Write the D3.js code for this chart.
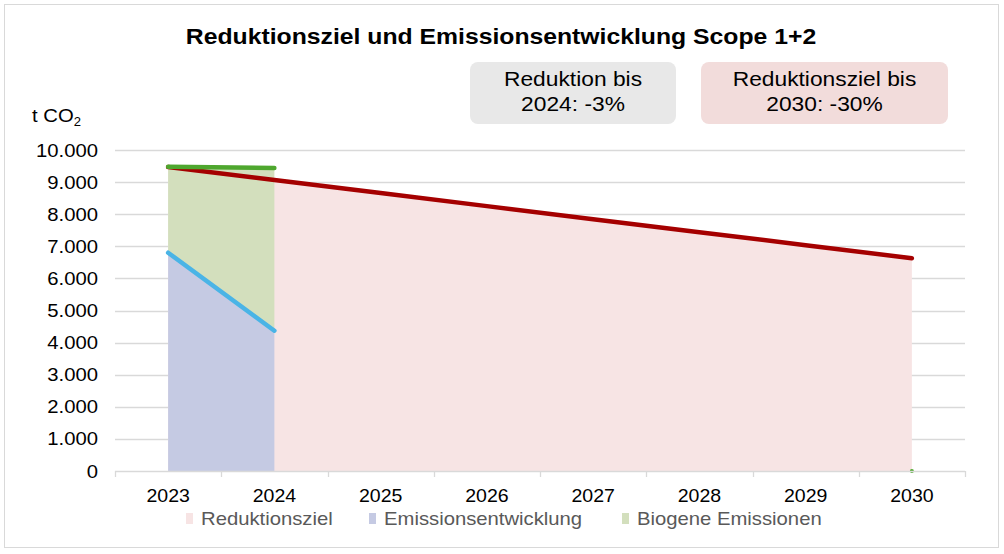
<!DOCTYPE html>
<html><head><meta charset="utf-8">
<script src="https://cdn.jsdelivr.net/npm/d3@7"></script>
<style>body{margin:0;background:#fff}svg{display:block;font-family:"Liberation Sans",Arial,sans-serif}</style>
</head><body><svg id="c" width="1004" height="554"></svg>
<script>
const years = ["2023","2024","2025","2026","2027","2028","2029","2030"];
const reduktionsziel = [9470,9064,8658,8252,7846,7440,7034,6629];
const emissionsYears = ["2023","2024"];
const emissionsentwicklung = [6800,4370];
const biogeneEmissionen = [2680,5070];
const yTicks = [0,1000,2000,3000,4000,5000,6000,7000,8000,9000,10000];
const legendLabels = ["Reduktionsziel","Emissionsentwicklung","Biogene Emissionen"];
const title = "Reduktionsziel und Emissionsentwicklung Scope 1+2";
const boxTexts = [["Reduktion bis","2024: -3%"],["Reduktionsziel bis","2030: -30%"]];

const svg = d3.select("#c");
svg.append("rect").attr("x",4.5).attr("y",4.5).attr("width",994).attr("height",543)
  .attr("fill","#fff").attr("stroke","#d9d9d9").attr("stroke-width",1);

const SX = 1.09;
function txt(g, x, yy, s, opts={}) {
  const t = g.append("text")
    .attr("transform",`translate(${x},${yy}) scale(${opts.sx||SX},1)`)
    .attr("text-anchor",opts.anchor||"start")
    .attr("font-size",opts.size||18.6)
    .attr("fill",opts.fill||"#000");
  if (opts.bold) t.attr("font-weight","bold");
  t.text(s);
  return t;
}

const L=115,R=965,T=150,B=471;
const x = d3.scaleBand().domain(years).range([L,R]);
const cx = d => x(d)+x.bandwidth()/2;
const y = d3.scaleLinear().domain([0,10000]).range([B,T]);
const fmt = v => d3.format(",")(v).replace(/,/g,".");

// gridlines
svg.append("g").selectAll("line").data(yTicks.filter(d=>d>0)).join("line")
  .attr("x1",L).attr("x2",R).attr("y1",d=>Math.round(y(d))+0.5).attr("y2",d=>Math.round(y(d))+0.5)
  .attr("stroke","#d9d9d9").attr("stroke-width",1.3);

// areas
const fillColors = ["#f7e4e4","#c5cae3","#d3dfbd"];
const area = d3.area().x(d=>cx(d.k)).y0(d=>y(d.lo)).y1(d=>y(d.hi));
const redData = years.map((k,i)=>({k,lo:0,hi:reduktionsziel[i]}));
svg.append("path").attr("d",area(redData)).attr("fill",fillColors[0]);
const blueData = emissionsYears.map((k,i)=>({k,lo:0,hi:emissionsentwicklung[i]}));
const greenData = emissionsYears.map((k,i)=>({k,lo:emissionsentwicklung[i],hi:emissionsentwicklung[i]+biogeneEmissionen[i]}));
svg.append("path").attr("d",area(blueData)).attr("fill",fillColors[1]);
svg.append("path").attr("d",area(greenData)).attr("fill",fillColors[2]);

// lines
const line = d3.line().x(d=>cx(d.k)).y(d=>y(d.v));
svg.append("path").attr("d",line(redData.map(d=>({k:d.k,v:d.hi}))))
  .attr("fill","none").attr("stroke","#a50000").attr("stroke-width",4.5).attr("stroke-linecap","round");
svg.append("path").attr("d",line(blueData.map(d=>({k:d.k,v:d.hi}))))
  .attr("fill","none").attr("stroke","#4ab4e6").attr("stroke-width",4.5).attr("stroke-linecap","round");
svg.append("path").attr("d",line(greenData.map(d=>({k:d.k,v:d.hi}))))
  .attr("fill","none").attr("stroke","#4ea72e").attr("stroke-width",4.5).attr("stroke-linecap","round");
svg.append("circle").attr("cx",cx("2030")).attr("cy",y(0)).attr("r",2).attr("fill","#4ea72e");

// x axis
svg.append("line").attr("x1",L).attr("x2",R).attr("y1",B+0.5).attr("y2",B+0.5).attr("stroke","#d9d9d9").attr("stroke-width",1.3);
const bounds = years.map(d=>x(d)).concat([R]);
svg.append("g").selectAll("line").data(bounds).join("line")
  .attr("x1",d=>Math.round(d)+0.5).attr("x2",d=>Math.round(d)+0.5).attr("y1",B).attr("y2",B+6)
  .attr("stroke","#d9d9d9").attr("stroke-width",1.3);
const gx = svg.append("g");
years.forEach(d => txt(gx, cx(d), 502, d, {anchor:"middle", size:18.6, sx:1.05}));

// y labels
const gy = svg.append("g");
yTicks.forEach(d => txt(gy, 98, y(d)+6.5, fmt(d), {anchor:"end", size:18.6}));
const yl = txt(svg, 32, 121.5, "", {size:18.6});
yl.append("tspan").text("t CO");
yl.append("tspan").attr("font-size",12).attr("dy",4).text("2");

// title
txt(svg, 501, 44, title, {anchor:"middle", size:22.5, bold:true, sx:1.1});

// boxes
const boxes = [{x:470,w:206,fill:"#e8e8e8"},{x:701,w:247,fill:"#f2dcdb"}];
boxes.forEach((b,i)=>{
  svg.append("rect").attr("x",b.x).attr("y",62).attr("width",b.w).attr("height",62).attr("rx",8).attr("fill",b.fill);
  boxTexts[i].forEach((t,j)=>{
    txt(svg, b.x+b.w/2, 86+j*25, t, {anchor:"middle", size:20.9});
  });
});

// legend
const legX = [186,369,622];
legendLabels.forEach((t,i)=>{
  svg.append("rect").attr("x",legX[i]).attr("y",513).attr("width",7).attr("height",11).attr("fill",fillColors[i]);
  txt(svg, legX[i]+15, 525, t, {size:18.6, fill:"#595959"});
});
</script></body></html>
